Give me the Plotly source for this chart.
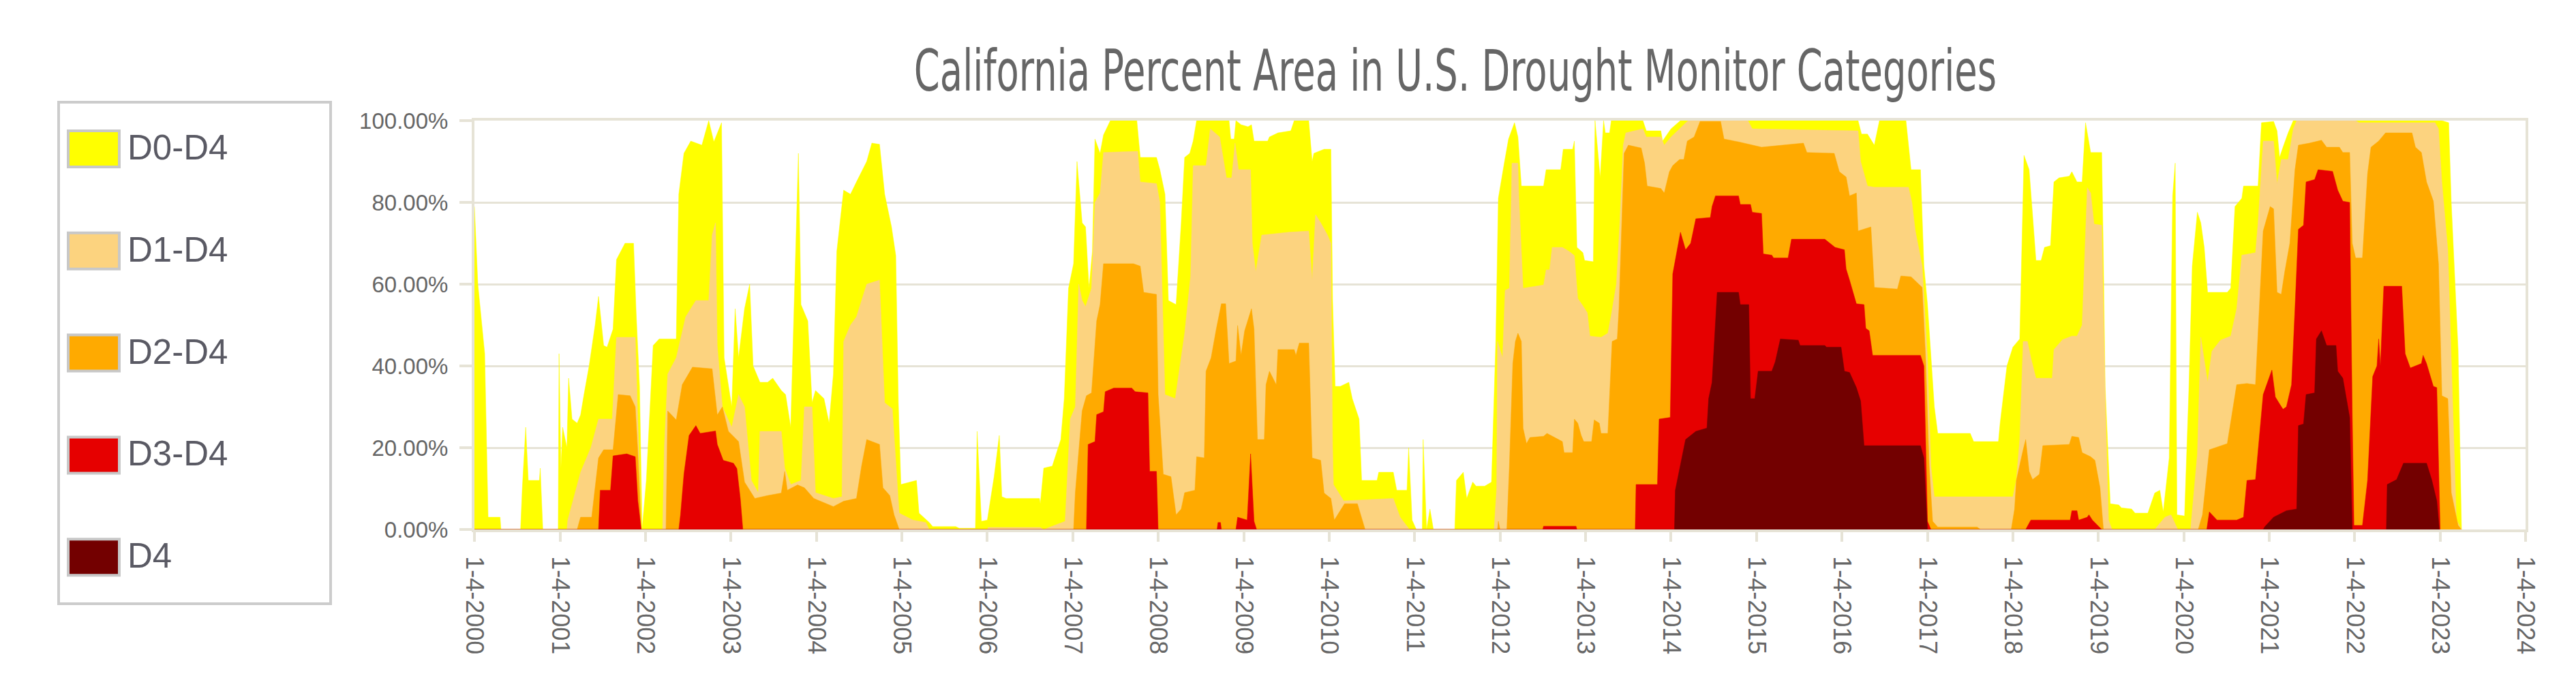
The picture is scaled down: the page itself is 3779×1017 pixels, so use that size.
import pandas as pd
import plotly.graph_objects as go

# ---------------- data (decimal year -> percent of area) ----------------
series_names = ["D0-D4", "D1-D4", "D2-D4", "D3-D4", "D4"]
series_colors = ["#FFFF00", "#FCD37F", "#FFAA00", "#E60000", "#730000"]

d0_t = [2000.00,2000.04,2000.12,2000.16,2000.30,2000.31,2000.54,2000.56,2000.60,2000.63,2000.76,2000.77,2000.80,2000.98,2000.99,
        2001.01,2001.03,2001.08,2001.10,2001.14,2001.20,2001.24,2001.28,2001.34,2001.41,2001.45,2001.51,2001.55,2001.62,2001.66,2001.76,2001.86,2001.89,2001.93,2001.96,
        2002.01,2002.09,2002.16,2002.36,2002.39,2002.45,2002.53,2002.66,2002.74,2002.80,2002.89,2002.92,2002.97,
        2003.01,2003.05,2003.09,2003.16,2003.22,2003.26,2003.34,2003.43,2003.49,2003.59,2003.64,2003.70,2003.76,2003.79,2003.82,2003.90,2003.95,2003.99,
        2004.09,2004.15,2004.20,2004.24,2004.32,2004.40,2004.47,2004.59,2004.65,2004.74,2004.80,2004.88,2004.93,2004.96,2004.99,
        2005.17,2005.20,2005.32,2005.36,2005.63,2005.67,2005.86,2005.88,2005.93,
        2006.00,2006.08,2006.14,2006.17,2006.22,2006.61,2006.62,2006.66,2006.76,2006.86,2006.90,2006.93,2006.95,
        2007.01,2007.05,2007.11,2007.15,2007.19,2007.23,2007.26,2007.32,2007.36,2007.44,2007.75,2007.79,2007.98,
        2008.02,2008.08,2008.12,2008.21,2008.27,2008.31,2008.37,2008.41,2008.45,2008.83,2008.85,2008.89,2008.91,2008.97,
        2009.05,2009.09,2009.12,2009.28,2009.30,2009.40,2009.55,2009.59,2009.76,2009.80,2009.82,2009.94,
        2010.02,2010.04,2010.07,2010.13,2010.23,2010.27,2010.35,2010.38,2010.56,2010.58,2010.75,2010.79,2010.91,2010.93,2010.97,
        2011.02,2011.09,2011.10,2011.14,2011.18,2011.22,2011.47,2011.49,2011.57,2011.61,2011.68,2011.72,2011.82,2011.90,2011.95,2011.98,
        2012.05,2012.10,2012.17,2012.21,2012.25,2012.51,2012.54,2012.71,2012.74,2012.85,2012.87,2012.90,2012.97,2012.99,
        2013.09,2013.11,2013.17,2013.21,2013.23,2013.28,2013.30,2013.67,2013.71,2013.88,2013.90,
        2014.00,2014.11,2016.19,2016.23,2016.30,2016.38,2016.44,2016.75,2016.81,2016.92,2016.96,
        2017.00,2017.08,2017.12,2017.50,2017.54,2017.83,2017.85,2017.93,
        2018.00,2018.08,2018.13,2018.19,2018.23,2018.27,2018.33,2018.37,2018.44,2018.48,2018.54,2018.66,2018.69,2018.75,2018.81,2018.85,2018.91,
        2019.04,2019.06,2019.08,2019.14,2019.24,2019.27,2019.39,2019.43,2019.58,2019.66,2019.72,2019.76,2019.83,2019.87,2019.90,2019.92,
        2020.01,2020.06,2020.10,2020.16,2020.20,2020.24,2020.28,2020.51,2020.55,2020.60,2020.68,2020.70,2020.87,2020.91,
        2021.05,2021.09,2021.12,2021.16,2021.22,2021.28,2023.02,2023.10,2023.13,2023.21,2023.25]
d0_v = [79,60,43,3,3,0,0,10,25,12,12,15,0,0,43,
        15,25,20,37,27,26,28,33,40,50,57,45,44.6,49,66,70,70,53,35,0,
        12,45,46.6,46.6,82,92,95,94,100,94.8,99.5,42,35,
        30,54,42,54,60,40,36,36,37,34,33,25,72,92,55,51,31,34,
        32,26,38,68,83,82,85,90,94.5,94.2,82,74,67,31,11,
        12,4,1.7,0.7,0.7,0.3,0.3,24,2,
        2.3,13,23,8,7.6,7.6,6.3,15,15.5,22,32,47,59,
        65,90,75,74,59,68,95.5,92,96.5,100,100,91,91,
        88,82,56,55,75,91,92,95,100,100,95.5,95.5,100,99,
        98.5,99,95,95,96,97,97.5,100,100,90,92,93,
        93,56,35,35,36,32,27,12,12,14,14,9.6,9.6,20,2.3,
        0,0,22,0,5,0,0,12,14,7.6,11.6,10.6,10.6,11.6,46,81,
        89.6,95.5,99.5,96,84,84,88,88,93,93,95,69,67.7,65.8,
        65.5,100,86,100,97,97,100,100,97.5,97.5,95,
        98,100,100,96.7,96.7,94,100,100,88,88,64.5,
        55,30,23.5,23.5,21.5,21.5,26,40,
        44.6,46.6,91.5,88,77,65.8,65.8,69,69.4,85,86,86.4,87.5,85,85,99.5,92.2,
        92.2,66,35,6.3,6,5.3,5,4,4,8.9,9.6,4.3,17.5,81.6,89.6,3.6,
        3.3,34,64.4,77.6,75,69,58,58,59,79,81,84,84,99.5,
        99.8,97.5,91,93.5,97,100,100,99.5,80,44,0]

d1_t = [2000.00,2001.08,2001.09,2001.24,2001.36,2001.45,2001.61,2001.66,2001.88,2001.91,2001.95,
        2002.20,2002.22,2002.26,2002.36,2002.47,2002.59,2002.74,2002.78,2002.82,2002.84,2002.90,
        2003.01,2003.09,2003.16,2003.24,2003.32,2003.34,2003.59,2003.63,2003.70,2003.82,2003.86,2003.95,2003.99,
        2004.20,2004.30,2004.32,2004.40,2004.47,2004.59,2004.74,2004.80,2004.89,2004.97,
        2005.13,2005.28,2005.32,2006.00,2006.01,2006.62,2006.66,2006.91,2006.97,
        2007.03,2007.07,2007.11,2007.15,2007.22,2007.26,2007.32,2007.36,2007.76,2007.79,2007.98,
        2008.02,2008.08,2008.20,2008.31,2008.38,2008.41,2008.56,2008.61,2008.72,2008.80,2008.86,2008.90,2008.94,
        2009.08,2009.10,2009.14,2009.21,2009.53,2009.76,2009.80,2009.84,2009.90,2009.98,
        2010.02,2010.04,2010.05,2010.17,2010.75,2010.83,2010.94,
        2011.93,2011.96,2011.97,2012.03,2012.06,2012.11,2012.14,2012.21,2012.22,2012.27,2012.51,2012.54,2012.58,2012.61,2012.73,2012.81,2012.87,2012.91,2012.96,
        2013.02,2013.05,2013.18,2013.26,2013.30,2013.36,2013.40,2013.44,2013.47,2013.67,2013.71,2013.88,2013.92,
        2014.00,2014.05,2014.20,2014.90,2014.95,2016.19,2016.22,2016.30,2016.38,2016.78,2016.82,2016.86,2016.94,
        2017.00,2017.04,2017.08,2018.00,2018.04,2018.08,2018.12,2018.17,2018.21,2018.27,2018.46,2018.48,2018.58,2018.69,2018.75,2018.81,2018.87,2018.91,2018.95,
        2019.04,2019.08,2019.12,2019.16,2019.66,2019.70,2019.78,2019.85,2019.93,
        2020.08,2020.16,2020.20,2020.28,2020.33,2020.43,2020.55,2020.62,2020.68,2020.84,2020.87,2020.93,
        2021.05,2021.09,2021.14,2021.22,2021.28,2021.32,2022.01,2022.05,2022.94,2022.98,
        2023.02,2023.09,2023.13,2023.19,2023.25]
d1_v = [0,0,2.3,14,20,27,27,47,47,25,0,
        0,20,38,42,52,56,56,72,75,45,30,
        25,33,30,12,9,24,24,15,11,12,30,30,9,
        7.6,8,46,50,52,60,61,31,29.5,4,
        2.3,1.7,0,0,0.5,0.5,0,2,27,
        30,60,56,54.5,59,80,82.3,92.2,92.5,85,84.6,
        80,33,32,48,62,89,89,98,96,86,86,94.5,88,
        88,70,63,72,72.7,73,61,77,75,72,
        70,20,11,7,7.6,3,0,
        0,10,46,42,58.5,59,89.6,89.6,81.6,59,59.8,63.5,63.5,69,69,68,67,56.5,55,
        53,47.3,47,48,52.5,60,75,94,97,98,96,96,94,
        96,97,100,100,98,97.5,90,84,83.7,83.7,80,73,64.5,
        42,15.5,8,8,12,22,46,46,42,37,37,44,46.4,47.3,47.3,50,83.6,82.3,74.7,
        74.4,33,2.3,0,0,1,3,3.6,0,
        0,18.5,47,36,43.6,46.3,47.3,54,67.1,67.7,75,95,
        95,84.6,90.5,90.5,98,100,100,99.5,99.5,98,
        85,68.4,42,2.3,0]

d2_t = [2000.00,2001.20,2001.24,2001.37,2001.45,2001.51,2001.62,2001.68,2001.82,2001.88,2001.91,2001.95,
        2002.24,2002.26,2002.36,2002.43,2002.55,2002.78,2002.84,2002.90,2002.97,
        2003.09,2003.16,2003.28,2003.43,2003.59,2003.63,2003.66,2003.78,2003.86,2003.97,
        2004.20,2004.32,2004.47,2004.53,2004.59,2004.74,2004.78,2004.86,2004.91,2004.97,
        2007.01,2007.03,2007.11,2007.16,2007.22,2007.28,2007.32,2007.36,2007.71,2007.79,2007.83,2007.98,
        2008.00,2008.06,2008.15,2008.21,2008.27,2008.31,2008.43,2008.45,2008.54,2008.56,2008.62,2008.68,2008.74,2008.79,2008.83,2008.91,2008.93,2008.97,
        2009.01,2009.09,2009.12,2009.16,2009.24,2009.26,2009.30,2009.38,2009.40,2009.59,2009.61,2009.65,2009.76,2009.80,2009.90,2009.94,
        2010.02,2010.06,2010.12,2010.18,2010.33,2010.42,
        2011.97,2011.98,2012.00,2012.08,2012.11,2012.15,2012.18,2012.21,2012.25,2012.27,2012.31,2012.35,2012.51,2012.55,2012.73,2012.75,2012.85,2012.87,2012.91,2012.95,2012.98,
        2013.07,2013.10,2013.16,2013.18,2013.26,2013.31,2013.37,2013.39,2013.45,2013.50,2013.65,2013.69,2013.72,2013.88,2013.92,2013.98,
        2014.02,2014.10,2014.15,2014.19,2014.27,2014.34,2014.58,2014.62,2014.79,2015.06,2015.41,2015.55,2015.59,2015.91,2015.97,
        2016.05,2016.09,2016.17,2016.19,2016.34,2016.38,2016.65,2016.69,2016.81,2016.94,2016.98,
        2017.02,2017.06,2017.12,2017.58,2017.62,2017.98,2018.02,2018.04,2018.12,2018.15,2018.19,2018.23,2018.31,2018.35,2018.66,2018.69,2018.77,2018.81,2018.91,2018.96,
        2019.02,2019.06,2020.17,2020.22,2020.30,2020.51,2020.62,2020.74,2020.84,2020.87,2020.93,
        2021.01,2021.05,2021.09,2021.14,2021.18,2021.24,2021.30,2021.34,2021.47,2021.61,2021.67,2021.82,2021.86,2021.94,2021.97,
        2022.01,2022.09,2022.15,2022.19,2022.28,2022.36,2022.67,2022.71,2022.78,2022.84,2022.92,2022.98,
        2023.02,2023.09,2023.13,2023.21,2023.25]
d2_v = [0,0,3,3,17.5,19.5,19.5,33,32.7,30,19,0,
        0,29,26.8,35.4,39.7,39.3,28,30,24,
        21.5,11.6,7.6,8.3,8.9,14.2,9.6,10.9,10.2,7.6,
        5.6,6.9,7.6,15.5,22,20.8,10.2,8.3,3.6,0,
        0,9,29,32.7,33.4,51,55,65,65,64.4,58,57.5,
        33,13.5,12.9,3.6,5,9,9.6,17.8,17.5,38.7,42,49,55.2,55.2,40.6,41.2,49.9,42.6,
        48.6,54,49,22,22,35.4,38.7,35.4,44,44,42.6,45.6,45.6,17.5,16.9,8.9,
        7.6,2.3,4.3,6.3,6.3,0,
        0,2,0,0,15.5,40.6,46,48,46,24.8,21,22.5,22.8,23.5,21.5,18.8,18.8,27,26,23,21.5,
        21.5,26.8,26,23.5,23.5,46,46.6,54,92,94,93.3,89.6,84,83.4,82.3,87.5,
        89,90.5,90.5,95,96,99.8,99.8,95.5,94.8,93.5,94.2,94.5,92.2,92,87.5,
        86.2,81.6,82.3,73,74,59.2,58.8,62,61.8,59.2,42,
        15.5,2,0.6,0.6,0,0,5,12,19.5,22,14.2,12.2,13.5,20.5,20.8,22.8,22.5,18.8,17.8,16.9,
        10.2,0,0,3.6,19.5,21,35.4,35.7,35.4,48.6,73,
        79,78.4,58,57.5,63,70,88,94,94.5,95.2,93.5,93.5,92.2,92.2,70,
        66.4,66.4,87,93.5,95,97,97,93.5,92.2,85,80.3,65,
        32.7,32,9,1,0]

d3_t = [2000.00,2001.45,2001.47,2001.59,2001.62,2001.78,2001.88,2001.91,2001.95,
        2002.39,2002.41,2002.45,2002.51,2002.59,2002.64,2002.82,2002.84,2002.91,2003.03,2003.07,2003.11,2003.14,
        2007.16,2007.18,2007.26,2007.28,2007.36,2007.38,2007.48,2007.69,2007.73,2007.88,2007.90,2007.98,
        2008.00,2008.69,2008.70,2008.73,2008.74,2008.91,2008.93,2009.04,2009.08,2009.12,2009.15,
        2012.50,2012.51,2012.89,2012.90,2013.58,2013.59,2013.84,2013.86,2013.99,
        2014.02,2014.11,2014.17,2014.23,2014.29,2014.46,2014.48,2014.52,2014.79,2014.81,2014.93,2014.95,
        2015.06,2015.08,2015.18,2015.20,2015.37,2015.41,2015.80,2015.92,
        2016.03,2016.05,2016.09,2016.17,2016.26,2016.28,2016.32,2016.36,2016.92,2016.96,2017.00,2017.04,
        2018.15,2018.21,2018.67,2018.69,2018.75,2018.77,2018.87,2018.89,2018.93,2019.04,
        2020.27,2020.30,2020.39,2020.62,2020.70,2020.74,2020.84,2020.87,2020.93,
        2021.03,2021.07,2021.12,2021.16,2021.20,2021.26,2021.30,2021.34,2021.40,2021.43,2021.53,2021.57,2021.74,2021.80,2021.86,2021.94,2021.97,2021.99,
        2022.09,2022.15,2022.21,2022.26,2022.28,2022.30,2022.34,2022.55,2022.59,2022.65,2022.78,2022.80,2022.84,2022.92,2022.96,2023.00]
d3_v = [0,0,9.6,9.6,18,18.5,17.8,7,0,
        0,3.6,13.5,23,25.4,23.5,24.1,20.8,16.9,16.2,14.9,7.6,0,
        0,20.8,21.5,28.1,28.8,33.7,34.6,34.6,33.7,33.4,14.2,14.2,
        0,0,1.7,1.7,0,0,3,2.3,18.5,2,0,
        0,0.8,0.8,0,0,11,11,27,27.4,
        62.5,72.7,68.4,70,76,76.3,79,81.6,81.6,79.5,79.5,77.6,
        77.3,67.4,67.1,66.4,66.4,71,71,69,
        68.4,63.7,61,55.2,55,49.2,48.6,42.6,42.6,40,2,0,
        0,2.3,2.3,4.6,4.6,2.3,3,3.6,2.3,0,
        0,4.3,2.3,2.3,3,12,12.2,18.8,33,
        39,32.4,30.7,29.4,30,35.4,54,73.4,74.4,85,85.6,88,87.6,83,80.3,80,28,1,
        1,12,37.4,40,46.6,40,59.5,59.5,43,39.5,40.6,42.6,40.6,35,34.7,0]

d4_t = [2000.00,2014.04,2014.05,2014.17,2014.29,2014.42,2014.44,2014.48,2014.54,2014.79,2014.81,2014.91,2014.93,2014.98,
        2015.02,2015.18,2015.22,2015.28,2015.49,2015.51,2015.80,2015.82,2015.99,
        2016.03,2016.09,2016.17,2016.22,2016.26,2016.92,2016.96,2017.00,
        2020.93,2020.95,2021.05,2021.20,2021.32,2021.34,2021.40,2021.43,2021.53,2021.55,2021.61,2021.67,2021.78,2021.80,2021.86,2021.94,2021.97,
        2022.37,2022.38,2022.49,2022.57,2022.84,2022.90,2022.96,2022.99]
d4_v = [0,0,9.6,22,24,24.8,32,36,58,58,55,55,32,32,
        38.7,38.7,41,46.6,46.3,45,45,44.6,44.6,
        38.7,38.4,34.7,31.4,20.5,20.5,17.5,0,
        0,0.7,3,4.6,5,25.4,25.8,33,33.4,46.6,48.6,45,45,38.7,37,27.4,0,
        0,11,12.2,16.2,16.2,12.2,7,0]

tick_years = list(range(2000, 2025))
tick_labels = [f"1-4-{y}" for y in tick_years]
title_text = "California Percent Area in U.S. Drought Monitor Categories"

# ---------------- helpers ----------------
def to_date(t):
    y = int(t)
    return pd.Timestamp(f"{y}-01-04") + pd.Timedelta(days=(t - y) * 365.25)

W_FIG, H_FIG = 3779, 1017
PL, PR, PT, PB = 688, 3697, 169, 769
def px(x):
    return (x - PL) / (PR - PL)
def py(y):
    return (PB - y) / (PB - PT)

GRID = "#E6E3D6"
TXT = "#666666"

fig = go.Figure()
all_t = [d0_t, d1_t, d2_t, d3_t, d4_t]
all_v = [d0_v, d1_v, d2_v, d3_v, d4_v]
for name, color, ts, vs in zip(series_names, series_colors, all_t, all_v):
    fig.add_trace(go.Scatter(
        x=[to_date(t) for t in ts], y=vs, name=name, mode="lines",
        fill="tozeroy", fillcolor=color, line=dict(color=color, width=0.5),
        showlegend=False, hoverinfo="x+y+name"))

# custom legend
shapes = []
annotations = []
shapes.append(dict(type="rect", xref="paper", yref="paper",
                   x0=px(78), x1=px(477), y0=py(878), y1=py(142),
                   line=dict(color="#CCCCCC", width=4), fillcolor="rgba(0,0,0,0)", layer="above"))
for i, (name, color) in enumerate(zip(series_names, series_colors)):
    cy = 210.5 + i * 149.8
    shapes.append(dict(type="rect", xref="paper", yref="paper",
                       x0=px(92), x1=px(167), y0=py(cy + 26.5), y1=py(cy - 26.5),
                       line=dict(color="#C8C8C8", width=4), fillcolor=color, layer="above"))
    annotations.append(dict(xref="paper", yref="paper", x=px(177), y=py(cy - 2),
                            xanchor="left", yanchor="middle", text=name, showarrow=False,
                            font=dict(family="Liberation Sans, Arial, sans-serif", size=51, color="#5A5A64")))

# partial box at bottom right
shapes.append(dict(type="rect", xref="paper", yref="paper",
                   x0=px(3430), x1=px(3695), y0=py(1100), y1=py(1012),
                   line=dict(color="#CCCCCC", width=3), fillcolor="rgba(0,0,0,0)"))

TITLE_CX = 2127
fig.update_layout(
    width=W_FIG, height=H_FIG,
    margin=dict(l=PL, r=W_FIG - PR, t=PT, b=H_FIG - PB, pad=0),
    paper_bgcolor="white", plot_bgcolor="white",
    title=dict(text=title_text, x=TITLE_CX / W_FIG, xanchor="center", xref="container",
               y=1 - 96 / H_FIG, yanchor="middle", yref="container",
               font=dict(family="Liberation Sans Narrow, DejaVu Sans Condensed, Arial Narrow, sans-serif",
                         size=84, color=TXT)),
    shapes=shapes, annotations=annotations,
    xaxis=dict(type="date", range=[to_date(2000), to_date(2024)],
               tickvals=[to_date(y) for y in tick_years], ticktext=tick_labels,
               tickangle=90, showgrid=False, zeroline=False,
               showline=True, linecolor=GRID, linewidth=4, mirror=True,
               ticks="outside", ticklen=14, tickwidth=4, tickcolor=GRID,
               ticklabelstandoff=14,
               tickfont=dict(family="Liberation Sans, Arial, sans-serif", size=36, color=TXT)),
    yaxis=dict(range=[0, 100], tickvals=[0, 20, 40, 60, 80, 100],
               ticktext=[f"{v:.2f}%" for v in [0, 20, 40, 60, 80, 100]],
               showgrid=True, gridcolor=GRID, gridwidth=3, zeroline=False,
               showline=True, linecolor=GRID, linewidth=4, mirror=True,
               ticks="outside", ticklen=18, tickwidth=4, tickcolor=GRID,
               ticklabelstandoff=10,
               tickfont=dict(family="Liberation Sans, Arial, sans-serif", size=33, color=TXT)),
)

# condense the title horizontally (the original uses a condensed typeface)
post = """
var gd = document.getElementById('{plot_id}');
function squeezeTitle() {
  var t = gd.querySelector('text.gtitle');
  if (!t) return;
  var cx = %d;
  t.setAttribute('transform', 'translate(' + cx + ',0) scale(0.72,1) translate(' + (-cx) + ',0)');
}
squeezeTitle();
if (gd.on) { gd.on('plotly_afterplot', squeezeTitle); }
""" % TITLE_CX

fig.write_html("out.html", post_script=post)
